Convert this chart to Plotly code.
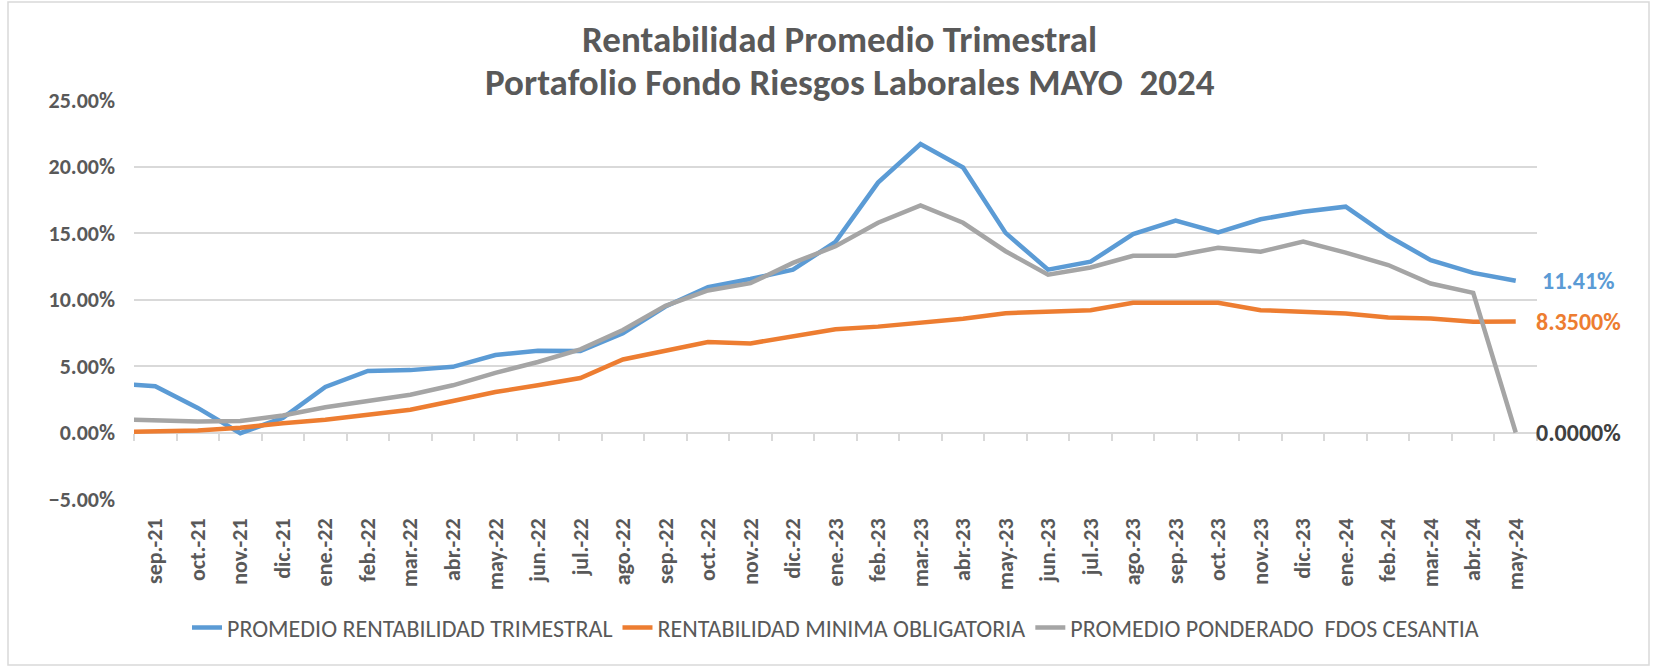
import plotly.graph_objects as go

# Months (ago.-21 sits just left of the visible range; Excel clips it at the edge)
months = [
    "ago.-21", "sep.-21", "oct.-21", "nov.-21", "dic.-21",
    "ene.-22", "feb.-22", "mar.-22", "abr.-22", "may.-22", "jun.-22",
    "jul.-22", "ago.-22", "sep.-22", "oct.-22", "nov.-22", "dic.-22",
    "ene.-23", "feb.-23", "mar.-23", "abr.-23", "may.-23", "jun.-23",
    "jul.-23", "ago.-23", "sep.-23", "oct.-23", "nov.-23", "dic.-23",
    "ene.-24", "feb.-24", "mar.-24", "abr.-24", "may.-24",
]

promedio_trimestral = [
    3.70, 3.48, 1.85, -0.05, 1.10,
    3.43, 4.63, 4.69, 4.94, 5.82, 6.15,
    6.12, 7.46, 9.47, 10.93, 11.54, 12.24,
    14.33, 18.79, 21.69, 19.92, 15.01, 12.24,
    12.84, 14.92, 15.93, 15.05, 16.03, 16.60,
    16.98, 14.77, 12.96, 12.00, 11.41,
]

minima_obligatoria = [
    0.02, 0.05, 0.15, 0.35, 0.70,
    0.96, 1.34, 1.71, 2.37, 3.05, 3.55,
    4.10, 5.49, 6.15, 6.80, 6.70, 7.20,
    7.76, 7.96, 8.26, 8.56, 8.97, 9.07,
    9.20, 9.75, 9.75, 9.75, 9.20, 9.07,
    8.94, 8.64, 8.57, 8.32, 8.35,
]

ponderado_cesantia = [
    1.00, 0.91, 0.83, 0.86, 1.28,
    1.90, 2.40, 2.84, 3.55, 4.48, 5.30,
    6.25, 7.71, 9.52, 10.68, 11.23, 12.75,
    14.00, 15.77, 17.08, 15.77, 13.63, 11.86,
    12.41, 13.29, 13.29, 13.89, 13.59, 14.35,
    13.52, 12.59, 11.20, 10.50, 0.00,
]

title_lines = [
    "Rentabilidad Promedio Trimestral",
    "Portafolio Fondo Riesgos Laborales MAYO\u00a0 2024",
]

series = [
    ("PROMEDIO RENTABILIDAD TRIMESTRAL", promedio_trimestral, "#5B9BD5", "#5B9BD5", "{:.2%}"),
    ("RENTABILIDAD MINIMA OBLIGATORIA", minima_obligatoria, "#ED7D31", "#ED7D31", "{:.4%}"),
    ("PROMEDIO PONDERADO  FDOS CESANTIA", ponderado_cesantia, "#A5A5A5", "#404040", "{:.4%}"),
]

W, H = 1654, 670
MARGIN = dict(l=134, r=117, t=100, b=171)
FONT = "Calibri, Carlito, Lato, sans-serif"
TEXT_GRAY = "#595959"
GRID = "#D9D9D9"
Y_MIN, Y_MAX = -0.05, 0.25

plot_w = W - MARGIN["l"] - MARGIN["r"]
plot_h = H - MARGIN["t"] - MARGIN["b"]


def paper_y(px):
    """pixel row (from top of figure) -> paper y"""
    return 1 + (MARGIN["t"] - px) / plot_h


def paper_x(px):
    return (px - MARGIN["l"]) / plot_w


fig = go.Figure()

for name, vals, color, _, _ in series:
    fig.add_trace(go.Scatter(
        x=months,
        y=[v / 100 for v in vals],
        name=name,
        mode="lines",
        line=dict(color=color, width=4.5),
        hoverinfo="skip",
    ))

# invisible trace so the tick-mark axis at 0% gets drawn
fig.add_trace(go.Scatter(
    x=list(range(len(months))),
    y=[None] * len(months),
    xaxis="x2",
    showlegend=False,
    hoverinfo="skip",
))

# end-of-line value labels (centred a little right of the last point)
for name, vals, _, label_color, fmt in series:
    fig.add_annotation(
        x=months[-1], y=vals[-1] / 100,
        text=fmt.format(vals[-1] / 100),
        showarrow=False, xanchor="center", yanchor="middle", xshift=63,
        font=dict(family=FONT, size=24, color=label_color, weight="bold"),
    )

# two-line title
for line, px, py in zip(title_lines, [839, 850], [39, 82]):
    fig.add_annotation(
        xref="paper", yref="paper",
        x=paper_x(px), y=paper_y(py),
        text=line, showarrow=False, xanchor="center", yanchor="middle",
        font=dict(family=FONT, size=37, color=TEXT_GRAY, weight="bold"),
    )

# chart-area border
fig.add_shape(
    type="rect", xref="paper", yref="paper", layer="below",
    x0=paper_x(8), x1=paper_x(W - 5),
    y0=paper_y(H - 5), y1=paper_y(2),
    line=dict(color=GRID, width=1.5),
)

fig.update_layout(
    width=W, height=H,
    margin=MARGIN,
    paper_bgcolor="white",
    plot_bgcolor="white",
    font=dict(family=FONT, color=TEXT_GRAY),
    xaxis=dict(
        type="category",
        range=[0.5, len(months) - 0.5],
        tickangle=-90,
        showgrid=False, showline=False, zeroline=False,
        ticks="",
        ticklabelstandoff=14,
        tickfont=dict(family=FONT, size=22, color=TEXT_GRAY, weight="bold"),
    ),
    xaxis2=dict(
        overlaying="x", anchor="free", side="bottom",
        position=(0 - Y_MIN) / (Y_MAX - Y_MIN),
        range=[0.5, len(months) - 0.5],
        tick0=0.5, dtick=1,
        ticks="outside", ticklen=7, tickcolor=GRID, tickwidth=1.5,
        showticklabels=False, showgrid=False, showline=False, zeroline=False,
    ),
    yaxis=dict(
        range=[Y_MIN, Y_MAX],
        dtick=0.05,
        tickformat=".2%",
        showgrid=True, gridcolor=GRID, gridwidth=1.5,
        zeroline=True, zerolinecolor=GRID, zerolinewidth=1.5,
        showline=False, ticks="",
        ticklabelstandoff=18,
        tickfont=dict(family=FONT, size=22, color=TEXT_GRAY, weight="bold"),
    ),
    legend=dict(
        orientation="h",
        x=0.5, xanchor="center",
        y=paper_y(628), yanchor="middle",
        font=dict(family=FONT, size=24, color=TEXT_GRAY),
        itemwidth=30,
        traceorder="normal",
    ),
    showlegend=True,
)

# the page body has a default 8px margin; drop it so the figure sits at 0,0
fig.write_html(
    "out.html",
    config={"displayModeBar": False},
    post_script="document.body.style.margin='0';",
)
